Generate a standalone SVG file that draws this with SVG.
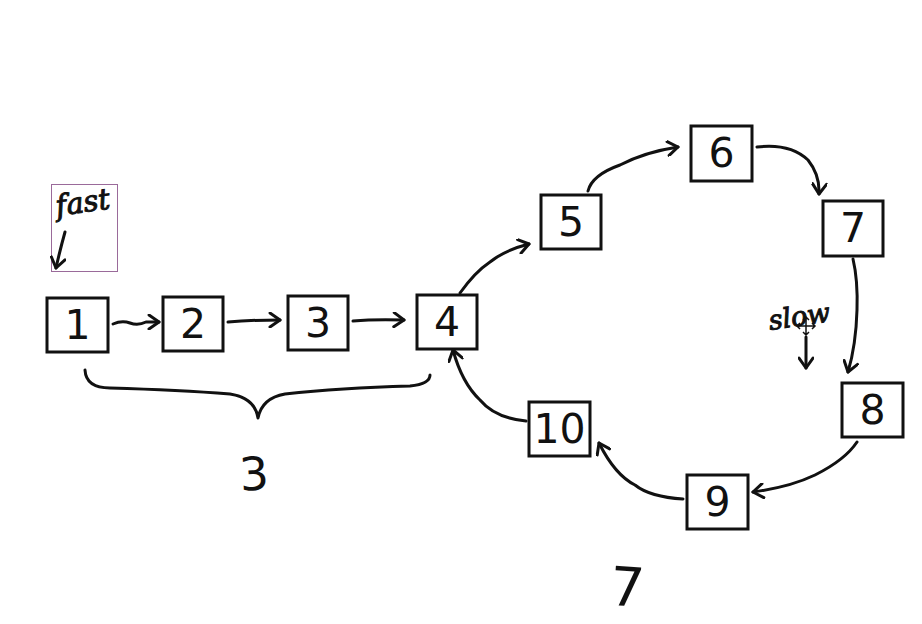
<svg xmlns="http://www.w3.org/2000/svg" width="922" height="624" viewBox="0 0 922 624">
<style>
.box rect{fill:#fff;stroke:#111;stroke-width:3}
.box text{font-family:"DejaVu Sans",Verdana,sans-serif;font-size:41px;fill:#111;text-anchor:middle}
.c path{fill:none;stroke:#111;stroke-width:3;stroke-linecap:round;stroke-linejoin:round}
.hand{font-family:"DejaVu Serif","Liberation Serif",serif;font-style:italic;fill:#111;stroke:#111;stroke-width:1}
.num{font-family:"DejaVu Sans","Liberation Sans",sans-serif;fill:#111;text-anchor:middle}
</style>
<defs>
<marker id="ah" viewBox="-12 -8 14 16" refX="0" refY="0" markerWidth="14" markerHeight="16" markerUnits="userSpaceOnUse" orient="auto">
<path d="M-10,-7 L0,0 L-10,7" fill="none" stroke="#111" stroke-width="3" stroke-linecap="round" stroke-linejoin="round"/>
</marker>
</defs>
<rect width="922" height="624" fill="#fff"/>
<g id="fast-label">
<rect x="51.5" y="184.5" width="66" height="87" fill="none" stroke="#9a6a9a" stroke-width="1"/>
<text class="hand" x="57" y="216" font-size="29" transform="rotate(-8 57 216)">fast</text>
</g>
<g id="slow-label">
<text class="hand" x="770" y="330" font-size="27" transform="rotate(-8 770 330)">slow</text>
<g stroke="#111" stroke-width="1.5" fill="none">
<path d="M806,317 V335 M797,326 H815 M803,320 L806,317 L809,320 M803,332 L806,335 L809,332 M800,323 L797,326 L800,329 M812,323 L815,326 L812,329"/>
</g>
</g>
<g id="n1" class="box"><rect x="47" y="298" width="61" height="54"/><text x="77.5" y="339">1</text></g>
<g id="n2" class="box"><rect x="163" y="297" width="60" height="54"/><text x="193" y="338">2</text></g>
<g id="n3" class="box"><rect x="288" y="296" width="60" height="54"/><text x="318" y="337">3</text></g>
<g id="n4" class="box"><rect x="417" y="295" width="60" height="54"/><text x="447" y="336">4</text></g>
<g id="n5" class="box"><rect x="541" y="195" width="60" height="54"/><text x="571" y="236">5</text></g>
<g id="n6" class="box"><rect x="691" y="126" width="61" height="55"/><text x="721.5" y="167">6</text></g>
<g id="n7" class="box"><rect x="823" y="201" width="60" height="55"/><text x="853" y="242">7</text></g>
<g id="n8" class="box"><rect x="842" y="383" width="61" height="54"/><text x="872.5" y="424">8</text></g>
<g id="n9" class="box"><rect x="687" y="475" width="61" height="54"/><text x="717.5" y="516">9</text></g>
<g id="n10" class="box"><rect x="529" y="402" width="61" height="54"/><text x="559.5" y="443">10</text></g>
<g id="connectors" class="c">
<path d="M65,232 Q60,250 56,268" marker-end="url(#ah)"/>
<path d="M806,337 L806,368" marker-end="url(#ah)"/>
<path d="M113,324 Q122,320 130,323 T146,322 L159,322" marker-end="url(#ah)"/>
<path d="M228,322 Q250,320 280,320" marker-end="url(#ah)"/>
<path d="M353,321 Q375,319 404,320" marker-end="url(#ah)"/>
<path d="M460,293 Q475,272 490,262 Q505,250 529,244" marker-end="url(#ah)"/>
<path d="M588,191 Q592,175 620,165 Q645,152 678,147" marker-end="url(#ah)"/>
<path d="M757,147 Q790,143 808,160 Q820,175 819,194" marker-end="url(#ah)"/>
<path d="M853,259 Q858,280 857,310 Q856,345 848,372" marker-end="url(#ah)"/>
<path d="M857,442 Q845,460 815,475 Q790,487 753,492" marker-end="url(#ah)"/>
<path d="M683,499 Q650,497 635,485 Q615,475 599,443" marker-end="url(#ah)"/>
<path d="M526,421 Q495,418 480,400 Q462,383 453,350" marker-end="url(#ah)"/>
<path d="M85,370 Q86,388 110,388 Q180,390 230,394 Q255,398 258,418 Q262,398 285,394 Q340,388 410,386 Q430,384 430,375"/>
</g>
<g id="labels">
<text class="num" x="255" y="490" font-size="46" transform="rotate(-4 255 490)">3</text>
<text class="num" x="626" y="606" font-size="54" transform="rotate(4 626 606)">7</text>
</g>
</svg>
